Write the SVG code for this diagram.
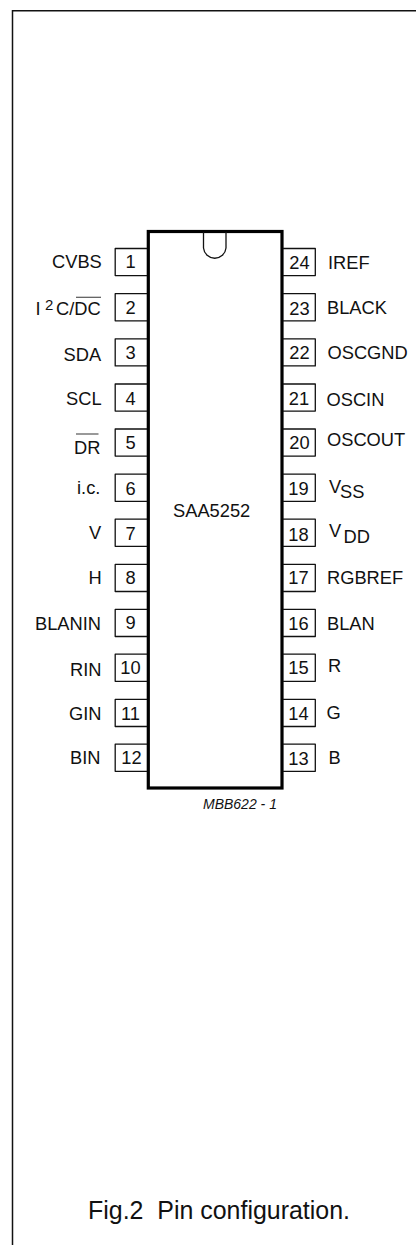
<svg xmlns="http://www.w3.org/2000/svg" width="416" height="1245" viewBox="0 0 416 1245">
<style>
text{font-family:"Liberation Sans",Arial,sans-serif;font-size:18.3px;fill:#111;white-space:pre}
.n{text-anchor:middle}
.b{fill:none;stroke:#111;stroke-width:1.3;stroke-linejoin:round}
.o{stroke:#555;stroke-width:1.2}
</style>
<rect width="416" height="1245" fill="#fff"/>
<path id="frame" d="M416 10.7H12.5V1245" fill="none" stroke="#111" stroke-width="1.5"/>
<g id="chip">
<rect x="148.3" y="231.5" width="133.7" height="556.5" fill="none" stroke="#000" stroke-width="3.2"/>
<path class="b" d="M203.5 232V248A11.3 11.3 0 0 0 226 248V232"/>
<text x="173" y="516.7">SAA5252</text>
</g>
<g id="pin1"><path class="b" d="M147 248.5H115.2V275.6H147"/><text class="n" x="130.5" y="268">1</text><text x="52" y="267.5">CVBS</text></g>
<g id="pin2"><path class="b" d="M147 293.7H115.2V320.8H147"/><text class="n" x="130.5" y="314">2</text><text x="35.5" y="315">I</text><text x="45" y="310" style="font-size:15px">2</text><text x="56" y="315">C/DC</text><line class="o" x1="76" x2="101" y1="297.3" y2="297.3"/></g>
<g id="pin3"><path class="b" d="M147 338.8H115.2V365.9H147"/><text class="n" x="130.5" y="359">3</text><text x="63.5" y="360.7">SDA</text></g>
<g id="pin4"><path class="b" d="M147 384H115.2V411.1H147"/><text class="n" x="130.5" y="405">4</text><text x="66" y="405">SCL</text></g>
<g id="pin5"><path class="b" d="M147 429H115.2V456.1H147"/><text class="n" x="130.5" y="449">5</text><text x="74" y="454">DR</text><line class="o" x1="76" x2="98.5" y1="434" y2="434"/></g>
<g id="pin6"><path class="b" d="M147 474.2H115.2V501.3H147"/><text class="n" x="130.5" y="495">6</text><text x="77" y="493.5">i.c.</text></g>
<g id="pin7"><path class="b" d="M147 519.2H115.2V546.3H147"/><text class="n" x="130.5" y="540">7</text><text x="89" y="539.3">V</text></g>
<g id="pin8"><path class="b" d="M147 564.4H115.2V591.5H147"/><text class="n" x="130.5" y="584">8</text><text x="88.5" y="584">H</text></g>
<g id="pin9"><path class="b" d="M147 609.4H115.2V636.5H147"/><text class="n" x="130.5" y="629">9</text><text x="35" y="630">BLANIN</text></g>
<g id="pin10"><path class="b" d="M147 654.2H115.2V681.3H147"/><text class="n" x="130.5" y="674">10</text><text x="70" y="676">RIN</text></g>
<g id="pin11"><path class="b" d="M147 699.4H115.2V726.5H147"/><text class="n" x="130.5" y="720">11</text><text x="69" y="720">GIN</text></g>
<g id="pin12"><path class="b" d="M147 744.2H115.2V771.3H147"/><text class="n" x="131.5" y="764">12</text><text x="70" y="764">BIN</text></g>
<g id="pin24"><path class="b" d="M283 248.5H315.3V275.6H283"/><text class="n" x="299.5" y="269">24</text><text x="328" y="269">IREF</text></g>
<g id="pin23"><path class="b" d="M283 293.7H315.3V320.8H283"/><text class="n" x="299.5" y="315">23</text><text x="327" y="314">BLACK</text></g>
<g id="pin22"><path class="b" d="M283 338.8H315.3V365.9H283"/><text class="n" x="299.5" y="359">22</text><text x="327.5" y="359">OSCGND</text></g>
<g id="pin21"><path class="b" d="M283 384H315.3V411.1H283"/><text class="n" x="299" y="405">21</text><text x="326.5" y="405.7">OSCIN</text></g>
<g id="pin20"><path class="b" d="M283 429H315.3V456.1H283"/><text class="n" x="299.5" y="449">20</text><text x="327" y="446">OSCOUT</text></g>
<g id="pin19"><path class="b" d="M283 474.2H315.3V501.3H283"/><text class="n" x="298.5" y="495">19</text><text x="329" y="492.7">V</text><text x="340" y="498">SS</text></g>
<g id="pin18"><path class="b" d="M283 519.2H315.3V546.3H283"/><text class="n" x="298.5" y="540.7">18</text><text x="329" y="537">V</text><text x="343.5" y="542.7">DD</text></g>
<g id="pin17"><path class="b" d="M283 564.4H315.3V591.5H283"/><text class="n" x="298.5" y="584">17</text><text x="327" y="584">RGBREF</text></g>
<g id="pin16"><path class="b" d="M283 609.4H315.3V636.5H283"/><text class="n" x="298.5" y="630">16</text><text x="327" y="630">BLAN</text></g>
<g id="pin15"><path class="b" d="M283 654.2H315.3V681.3H283"/><text class="n" x="298.5" y="674">15</text><text x="328" y="671.7">R</text></g>
<g id="pin14"><path class="b" d="M283 699.4H315.3V726.5H283"/><text class="n" x="298.5" y="720">14</text><text x="326.5" y="719.3">G</text></g>
<g id="pin13"><path class="b" d="M283 744.2H315.3V771.3H283"/><text class="n" x="298.5" y="765">13</text><text x="328.5" y="764.3">B</text></g>
<g id="connectors"/>
<text x="203" y="808.7" style="font-size:14px;font-style:italic">MBB622 - 1</text>
<text x="88" y="1219" style="font-size:24.95px">Fig.2  Pin configuration.</text>
</svg>
